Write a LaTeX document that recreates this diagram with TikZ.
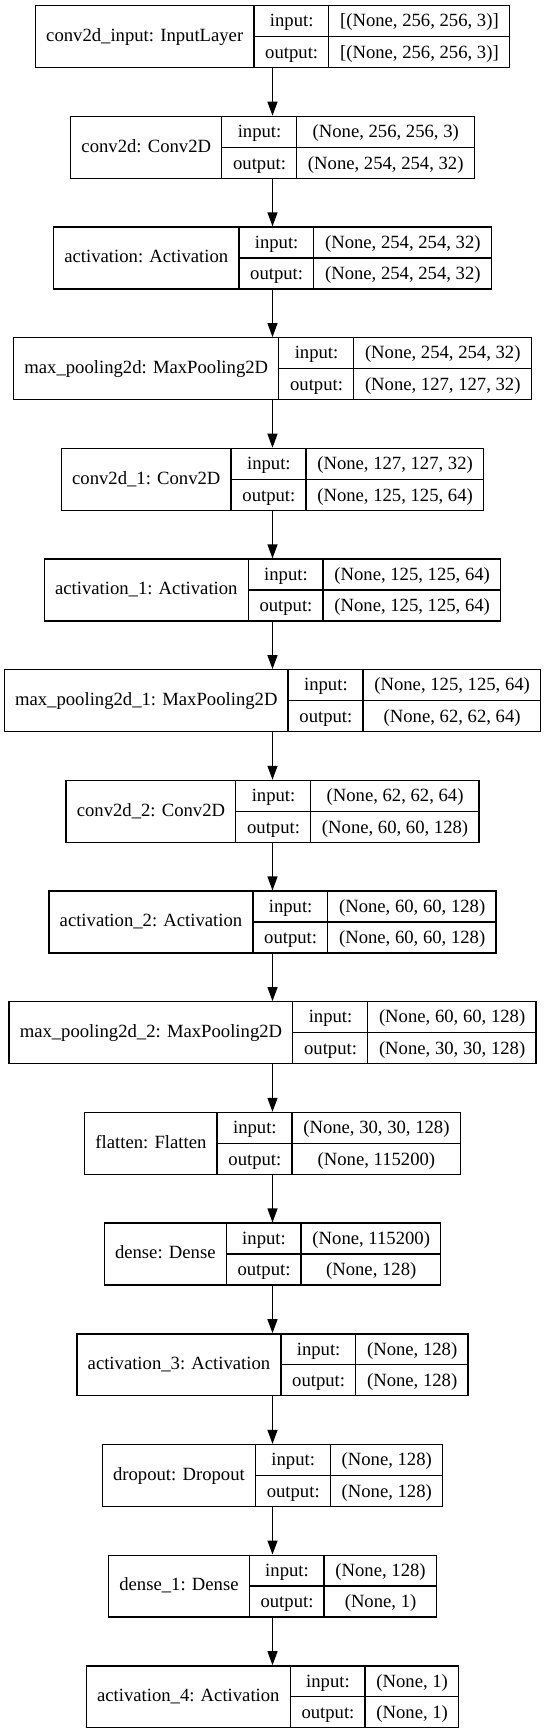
\documentclass[tikz,border=0pt]{standalone}
\usepackage{fontspec}
\setmainfont{Liberation Serif}
\usetikzlibrary{arrows.meta, positioning}
\setlength{\arrayrulewidth}{1pt}
\newcommand{\layertab}[3]{%
  \begin{tabular}{@{\hspace{8pt}}c@{\hspace{8pt}}|@{}c@{}}
    #1 &
    \begin{tabular}{@{\hspace{8pt}}c@{\hspace{8pt}}|@{\hspace{8pt}}c@{\hspace{8pt}}}
      input: & #2 \\ \hline
      output: & #3
    \end{tabular}
  \end{tabular}}
\tikzset{
  layer/.style={draw, line width=1pt, inner sep=0pt, anchor=north,
    font=\fontsize{14pt}{22.7pt}\selectfont},
  flow/.style={-{Triangle[length=10.5pt, width=7.5pt]}, line width=1pt}
}

\begin{document}
\begin{tikzpicture}[x=1pt, y=1pt]
  % page
  \path[fill=white] (0,0) rectangle (408.75,-1299.75);

  % layers
  \node[layer] (input) at (204.375,-3.75) {\layertab{conv2d\_input: InputLayer}{[(None, 256, 256, 3)]}{[(None, 256, 256, 3)]}};
  \node[layer] (conv0) at (204.375,-86.76) {\layertab{conv2d: Conv2D}{(None, 256, 256, 3)}{(None, 254, 254, 32)}};
  \node[layer] (act0) at (204.375,-169.77) {\layertab{activation: Activation}{(None, 254, 254, 32)}{(None, 254, 254, 32)}};
  \node[layer] (pool0) at (204.375,-252.78) {\layertab{max\_pooling2d: MaxPooling2D}{(None, 254, 254, 32)}{(None, 127, 127, 32)}};
  \node[layer] (conv1) at (204.375,-335.79) {\layertab{conv2d\_1: Conv2D}{(None, 127, 127, 32)}{(None, 125, 125, 64)}};
  \node[layer] (act1) at (204.375,-418.80) {\layertab{activation\_1: Activation}{(None, 125, 125, 64)}{(None, 125, 125, 64)}};
  \node[layer] (pool1) at (204.375,-501.81) {\layertab{max\_pooling2d\_1: MaxPooling2D}{(None, 125, 125, 64)}{(None, 62, 62, 64)}};
  \node[layer] (conv2) at (204.375,-584.82) {\layertab{conv2d\_2: Conv2D}{(None, 62, 62, 64)}{(None, 60, 60, 128)}};
  \node[layer] (act2) at (204.375,-667.83) {\layertab{activation\_2: Activation}{(None, 60, 60, 128)}{(None, 60, 60, 128)}};
  \node[layer] (pool2) at (204.375,-750.84) {\layertab{max\_pooling2d\_2: MaxPooling2D}{(None, 60, 60, 128)}{(None, 30, 30, 128)}};
  \node[layer] (flat) at (204.375,-833.85) {\layertab{flatten: Flatten}{(None, 30, 30, 128)}{(None, 115200)}};
  \node[layer] (dense0) at (204.375,-916.86) {\layertab{dense: Dense}{(None, 115200)}{(None, 128)}};
  \node[layer] (act3) at (204.375,-999.87) {\layertab{activation\_3: Activation}{(None, 128)}{(None, 128)}};
  \node[layer] (drop) at (204.375,-1082.88) {\layertab{dropout: Dropout}{(None, 128)}{(None, 128)}};
  \node[layer] (dense1) at (204.375,-1165.89) {\layertab{dense\_1: Dense}{(None, 128)}{(None, 1)}};
  \node[layer] (act4) at (204.375,-1248.90) {\layertab{activation\_4: Activation}{(None, 1)}{(None, 1)}};

  % connections
  \draw[flow] (input.south) -- (conv0.north);
  \draw[flow] (conv0.south) -- (act0.north);
  \draw[flow] (act0.south) -- (pool0.north);
  \draw[flow] (pool0.south) -- (conv1.north);
  \draw[flow] (conv1.south) -- (act1.north);
  \draw[flow] (act1.south) -- (pool1.north);
  \draw[flow] (pool1.south) -- (conv2.north);
  \draw[flow] (conv2.south) -- (act2.north);
  \draw[flow] (act2.south) -- (pool2.north);
  \draw[flow] (pool2.south) -- (flat.north);
  \draw[flow] (flat.south) -- (dense0.north);
  \draw[flow] (dense0.south) -- (act3.north);
  \draw[flow] (act3.south) -- (drop.north);
  \draw[flow] (drop.south) -- (dense1.north);
  \draw[flow] (dense1.south) -- (act4.north);
\end{tikzpicture}
\end{document}
